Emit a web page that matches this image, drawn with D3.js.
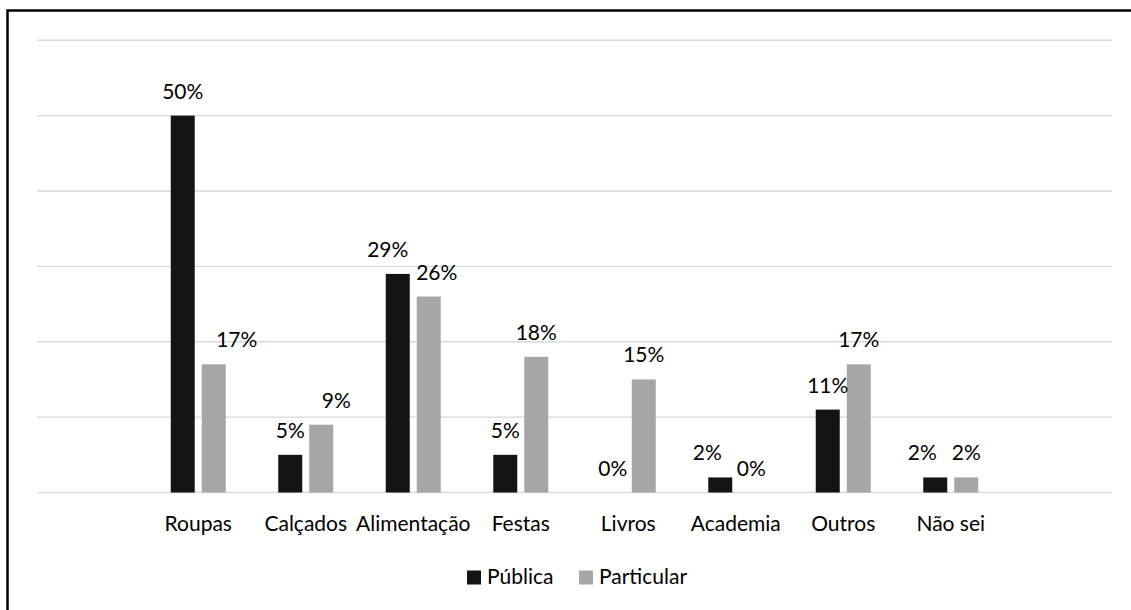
<!DOCTYPE html>
<html>
<head>
<meta charset="utf-8">
<script src="https://cdn.jsdelivr.net/npm/d3@7"></script>
<style>
  html, body { margin: 0; padding: 0; background: #fff; }
  svg { display: block; }
  text { font-family: Lato, "Open Sans", sans-serif; fill: #000; }
</style>
</head>
<body>
<svg id="chart" width="1131" height="610"></svg>
<script>
// Categories of spending, by type of school
const categories = ["Roupas", "Calçados", "Alimentação", "Festas", "Livros", "Academia", "Outros", "Não sei"];
const seriesNames = ["Pública", "Particular"];
const publica    = [50, 5, 29, 5, 0, 2, 11, 2];
const particular = [17, 9, 26, 18, 15, 0, 17, 2];
const yTicks = [0, 10, 20, 30, 40, 50, 60];

// Small horizontal nudges for labels that would otherwise collide
const labelNudge = {
  "Pública":    [0, 0, -10, 0, 0, -13, 0, -13],
  "Particular": [23, 15, 8, 0, 0, 0, 0, 0]
};

const colors = { "Pública": "#141414", "Particular": "#a6a6a6" };
const values = { "Pública": publica, "Particular": particular };
const FONT = 21;

const svg = d3.select("#chart");
const plot = { left: 37, right: 1112, top: 40.25, bottom: 492.5 };

// Outer frame
svg.append("rect")
  .attr("x", 7.5).attr("y", 10.5)
  .attr("width", 1200).attr("height", 700)
  .attr("fill", "none").attr("stroke", "#000").attr("stroke-width", 2.5);

const x0 = d3.scaleBand().domain(categories)
  .range([plot.left, plot.right]).paddingInner(0).paddingOuter(1);
const x1 = d3.scaleBand().domain(seriesNames)
  .range([0, 55]).paddingInner(2 - 55 / 31);
const groupOffset = (x0.bandwidth() - 55) / 2;
const y = d3.scaleLinear().domain([0, 60]).range([plot.bottom, plot.top]);

// Horizontal gridlines
svg.append("g").selectAll("line").data(yTicks).join("line")
  .attr("x1", plot.left).attr("x2", plot.right)
  .attr("y1", d => y(d)).attr("y2", d => y(d))
  .attr("stroke", "#d9d9d9").attr("stroke-width", 1.4);

// Bars
const rows = [];
seriesNames.forEach(s => categories.forEach((c, i) => rows.push({ s, c, i, v: values[s][i] })));

svg.append("g").selectAll("rect").data(rows).join("rect")
  .attr("x", d => x0(d.c) + groupOffset + x1(d.s))
  .attr("y", d => y(d.v))
  .attr("width", x1.bandwidth())
  .attr("height", d => y(0) - y(d.v))
  .attr("fill", d => colors[d.s]);

// Value labels
svg.append("g").selectAll("text").data(rows).join("text")
  .attr("x", d => x0(d.c) + groupOffset + x1(d.s) + x1.bandwidth() / 2 + labelNudge[d.s][d.i])
  .attr("y", d => y(d.v) - 17)
  .attr("text-anchor", "middle")
  .attr("font-size", FONT)
  .text(d => d.v + "%");

// Category axis labels
const xAxis = d3.axisBottom(x0).tickSize(0).tickPadding(0);
const gx = svg.append("g").attr("transform", `translate(0, ${plot.bottom})`).call(xAxis);
gx.select(".domain").remove();
gx.selectAll("text")
  .attr("dy", null).attr("y", 38.5)
  .attr("font-size", FONT)
  .style("font-family", "Lato, 'Open Sans', sans-serif")
  .attr("fill", "#000");

// Legend
const legend = svg.append("g");
const legendItems = [
  { name: "Pública", sx: 467, tx: 487 },
  { name: "Particular", sx: 579, tx: 599 }
];
legend.selectAll("rect").data(legendItems).join("rect")
  .attr("x", d => d.sx).attr("y", 570.5)
  .attr("width", 14).attr("height", 14)
  .attr("fill", d => colors[d.name]);
legend.selectAll("text").data(legendItems).join("text")
  .attr("x", d => d.tx).attr("y", 584)
  .attr("font-size", FONT)
  .text(d => d.name);
</script>
</body>
</html>
